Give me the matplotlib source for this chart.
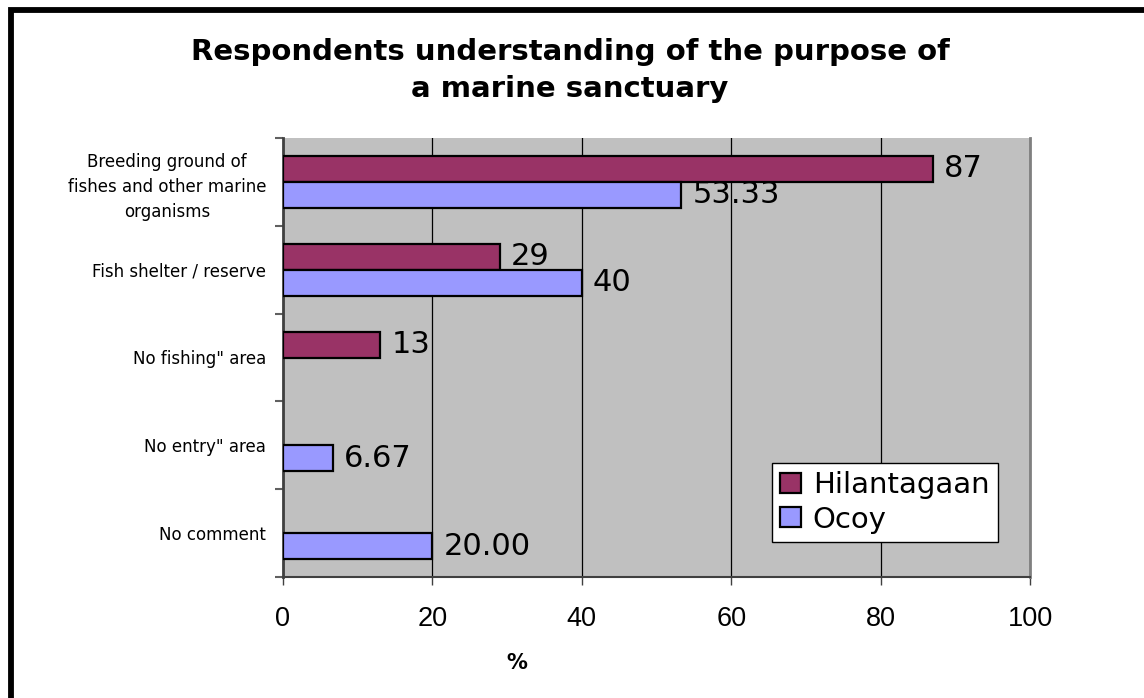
import numpy as np
import matplotlib
matplotlib.use("Agg")
import matplotlib.pyplot as plt
from matplotlib.patches import Rectangle, Patch

plt.rcParams['font.family'] = ['DejaVu Sans']

categories = ["Breeding ground of\nfishes and other marine\norganisms",
              "Fish shelter / reserve",
              'No fishing" area',
              'No entry" area',
              "No comment"]
hilantagaan = [87, 29, 13, np.nan, np.nan]
ocoy = [53.33, 40, np.nan, 6.67, 20.00]
hil_labels = ["87", "29", "13", "", ""]
ocoy_labels = ["53.33", "40", "", "6.67", "20.00"]
x_ticks = [0, 20, 40, 60, 80, 100]
series_names = ["Hilantagaan", "Ocoy"]
colors = ["#993366", "#9999FF"]

W, H = 1144, 698
fig = plt.figure(figsize=(W/100, H/100), dpi=100)
fig.patch.set_facecolor("white")

# outer frame (only top and left visible)
fig.add_artist(Rectangle((10.5/W, -0.1), 1.2, 1 - 10.5/H + 0.1, transform=fig.transFigure,
                         fill=False, edgecolor="black", lw=4.2))

ax = fig.add_axes([283/W, 1 - 577/H, (1030-283)/W, (577-138)/H])
ax.set_facecolor("#C0C0C0")

pos = np.arange(len(categories))
bh = 0.296
ax.barh(pos - bh/2, hilantagaan, height=bh, color=colors[0], edgecolor="black", lw=1.6, zorder=3)
ax.barh(pos + bh/2, ocoy, height=bh, color=colors[1], edgecolor="black", lw=1.6, zorder=3)

for i in range(len(categories)):
    if not np.isnan(hilantagaan[i]):
        ax.annotate(hil_labels[i], (hilantagaan[i], pos[i] - bh/2), xytext=(8, 0),
                    textcoords="offset points", va="center", ha="left", fontsize=22, zorder=4)
    if not np.isnan(ocoy[i]):
        ax.annotate(ocoy_labels[i], (ocoy[i], pos[i] + bh/2), xytext=(8, 0),
                    textcoords="offset points", va="center", ha="left", fontsize=22, zorder=4)

ax.set_xlim(0, 100)
ax.set_ylim(len(categories) - 0.5, -0.5)
ax.set_xticks(x_ticks)
ax.set_xticklabels([str(t) for t in x_ticks], fontsize=19.5, family=["Liberation Sans", "DejaVu Sans"])
ax.tick_params(axis="x", direction="out", length=6, width=1, color="#404040", pad=15)

ax.set_yticks(np.arange(-0.5, len(categories) + 0.5, 1.0))
ax.set_yticklabels([])
ax.tick_params(axis="y", which="major", direction="out", length=6, width=1.5, color="#606060")
ax.set_yticks(pos, categories, minor=True)
ax.tick_params(axis="y", which="minor", length=0, pad=12, labelsize=12)
for lab in ax.get_yticklabels(minor=True):
    lab.set_multialignment("center")
    lab.set_linespacing(1.5)

ax.set_axisbelow(True)
ax.xaxis.grid(True, color="black", lw=0.9)
ax.yaxis.grid(False)

ax.spines["left"].set_color("#404040")
ax.spines["left"].set_linewidth(2)
ax.spines["bottom"].set_color("#404040")
ax.spines["bottom"].set_linewidth(1.5)
ax.spines["right"].set_color("#808080")
ax.spines["right"].set_linewidth(2)
ax.spines["top"].set_visible(False)

handles = [Patch(facecolor=colors[0], edgecolor="black", lw=1.6),
           Patch(facecolor=colors[1], edgecolor="black", lw=1.6)]
leg = fig.legend(handles, series_names, loc="upper left",
                 bbox_to_anchor=(772/W, 1 - 463/H), bbox_transform=fig.transFigure,
                 fontsize=21, frameon=True, fancybox=False, edgecolor="black",
                 handlelength=0.72, handleheight=0.68, handletextpad=0.4,
                 borderpad=0.28, labelspacing=0.22, borderaxespad=0)
leg.get_frame().set_linewidth(1)
leg.get_frame().set_facecolor("white")
leg.get_frame().set_alpha(1)

fig.text(570/W, 1 - 60/H, "Respondents understanding of the purpose of", ha="center",
         va="baseline", fontsize=21, fontweight="bold")
fig.text(570/W, 1 - 97/H, "a marine sanctuary", ha="center", va="baseline",
         fontsize=21, fontweight="bold")
fig.text(517/W, 1 - 663/H, "%", ha="center", va="center", fontsize=15, fontweight="bold")

fig.savefig("out.png", dpi=100)
